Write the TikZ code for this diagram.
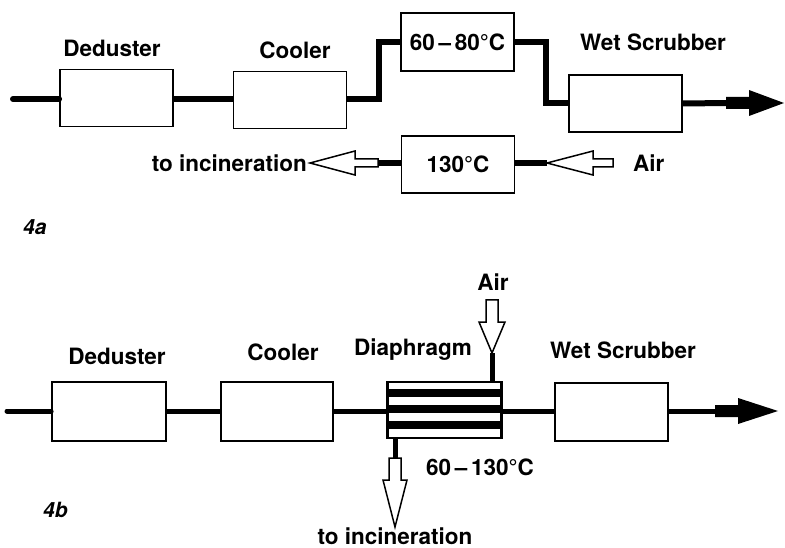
\documentclass[tikz,border=0pt]{standalone}
\usepackage{fontspec}
\setmainfont{TeX Gyre Heros}
\begin{document}
\begin{tikzpicture}[x=1pt,y=-1pt,
  lbl/.style={font=\fontsize{22.5}{24}\selectfont\bfseries, inner sep=0pt},
  fig/.style={font=\fontsize{21}{24}\selectfont\bfseries\itshape, inner sep=0pt},
  unit/.style={draw, line width=1.8pt, fill=white, minimum width=113pt, minimum height=57pt, inner sep=0pt, font=\fontsize{22.5}{24}\selectfont\bfseries},
  pipeA/.style={line width=6pt},
  pipeB/.style={line width=5pt},
  openarrow/.style={draw, fill=white, line width=1.5pt, line join=miter}
]
\useasboundingbox (0,0) rectangle (785,548);

% ---------------- 4a ----------------
\node[unit] (ded1) at (116.5,98) {};
\node[unit] (cool1) at (290,100) {};
\node[unit, minimum height=58pt] (t1) at (457.5,42) {60\,–\,80°C};
\node[unit] (ws1) at (625.5,103.5) {};
\node[unit] (t2) at (458,164.5) {130°C};

\node[lbl] (lded1) at (112,48) {Deduster};
\node[lbl] (lcool1) at (295,50) {Cooler};
\node[lbl] (lws1) at (653,42) {Wet Scrubber};

\coordinate (in1) at (13,99);
\draw[pipeA, line cap=round] (in1) -- (in1 -| ded1.west);
\draw[pipeA] (ded1.east |- in1) -- (cool1.west |- in1);
\draw[pipeA, line join=miter] (cool1.east |- in1) -- ++(32,0) |- (t1.west);
\draw[pipeA, line join=miter] (t1.east) -- ++(31,0) |- (ws1.west);

\coordinate (out1) at (784,103);
\draw[pipeA] (ws1.east) -- (727,103);
\fill (out1) -- ++(-35,-13) -- ++(0,7) -- ++(-23,0) -- ++(0,12) -- ++(23,0) -- ++(0,7) -- cycle;

% incineration (left) arrow
\coordinate (inc1) at (310,163);
\draw[pipeA] (t2.west |- inc1) -- (378,163);
\draw[openarrow] (inc1) -- ++(45,-12) -- ++(0,8) -- ++(23,0) -- ++(0,8) -- ++(-23,0) -- ++(0,8) -- cycle;
\node[lbl, anchor=east] (linc1) at (307,163) {to incineration};

% air arrow (right)
\coordinate (air1) at (547,163);
\draw[pipeA] (t2.east |- air1) -- (air1);
\draw[openarrow] (air1) -- ++(46,-12) -- ++(0,8) -- ++(20,0) -- ++(0,8) -- ++(-20,0) -- ++(0,8) -- cycle;
\node[lbl, anchor=west] (lair1) at (633,163) {Air};

\node[fig, anchor=west] (f4a) at (23,227) {4a};

% ---------------- 4b ----------------
\node[unit, minimum width=114pt, minimum height=59pt] (ded2) at (109,411.5) {};
\node[unit, minimum width=112pt, minimum height=59pt] (cool2) at (277,411.5) {};
\node[unit, minimum height=58pt] (ws2) at (611.5,412) {};
\node[draw, line width=1.8pt, fill=white, minimum width=113pt, minimum height=55pt, inner sep=0pt] (dia) at (444.5,410) {};

\node[lbl] (lded2) at (117,356) {Deduster};
\node[lbl] (lcool2) at (283,352) {Cooler};
\node[lbl] (ldia) at (413,350) {Diaphragm};
\node[lbl] (lws2) at (623,350) {Wet Scrubber};

\coordinate (in2) at (7,411);
\draw[pipeB, line cap=round] (in2) -- (in2 -| ded2.west);
\draw[pipeB] (ded2.east |- in2) -- (cool2.west |- in2);
\draw[pipeB] (cool2.east |- in2) -- (dia.west |- in2);
\draw[pipeB] (dia.east |- in2) -- (ws2.west |- in2);

% diaphragm stripes
\foreach \k in {1,3,5} {
  \fill ([yshift=-\k*7.857pt]dia.north west) rectangle ([yshift=-(\k+1)*7.857pt]dia.north east);
}
\draw[line width=1.8pt] (dia.north west) rectangle (dia.south east);

\coordinate (out2) at (778,411);
\draw[pipeB] (ws2.east |- in2) -- (715,411);
\fill (out2) -- ++(-40,-13) -- ++(0,7) -- ++(-23,0) -- ++(0,12) -- ++(23,0) -- ++(0,7) -- cycle;

% air in (top)
\coordinate (air2) at (492,353);
\draw[pipeB] (air2) -- (air2 |- dia.north);
\draw[openarrow] (air2) -- ++(-13,-31) -- ++(7,0) -- ++(0,-22) -- ++(12,0) -- ++(0,22) -- ++(7,0) -- cycle;
\node[lbl] (lair2) at (493,282) {Air};

% to incineration (bottom)
\coordinate (inc2) at (395,458);
\draw[pipeB] (inc2 |- dia.south) -- (inc2);
\draw[openarrow] (395,527) -- ++(-12,-47) -- ++(6,0) -- ++(0,-22) -- ++(12,0) -- ++(0,22) -- ++(6,0) -- cycle;
\node[lbl] (linc2) at (395,536) {to incineration};

\node[lbl] (ltemp2) at (480,467) {60\,–\,130°C};

\node[fig, anchor=west] (f4b) at (43,510) {4b};
\end{tikzpicture}
\end{document}
